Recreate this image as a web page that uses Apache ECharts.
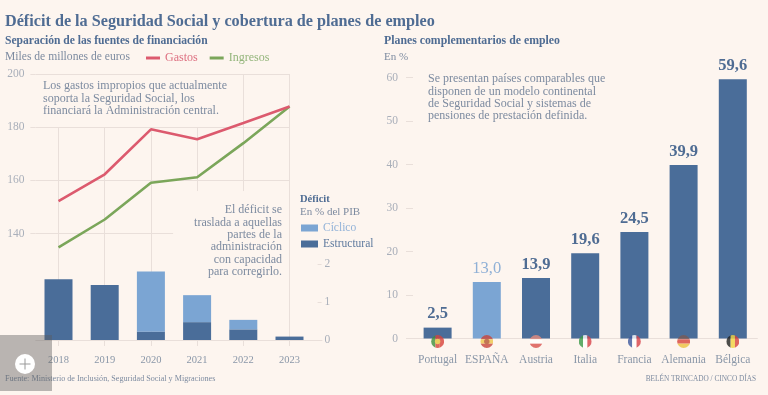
<!DOCTYPE html>
<html>
<head>
<meta charset="utf-8">
<style>
  html, body { margin: 0; padding: 0; background: #fdf5ef; }
  #chart { width: 768px; height: 395px; }
</style>
<script src="https://cdn.jsdelivr.net/npm/echarts@6/dist/echarts.min.js"></script>
</head>
<body>
<div id="chart"></div>
<script>
// lineas de gastos e ingresos
var years = [2018, 2019, 2020, 2021, 2022, 2023];
var gastos = [152.2, 162.3, 179.2, 175.5, 181.6, 187.8];
var ingresos = [134.8, 145.3, 159.1, 161.2, 174, 187.8];
var lineTicks = [140, 160, 180, 200];

// barras de deficit
var yearLabels = ["2018", "2019", "2020", "2021", "2022", "2023"];
var estructural = [1.6, 1.45, 0.22, 0.47, 0.28, 0.09];
var ciclico = [0, 0, 1.58, 0.71, 0.25, 0];
var deficitTicks = [0, 1, 2];

// planes de empleo
var paises = ["Portugal", "ESPAÑA", "Austria", "Italia", "Francia", "Alemania", "Bélgica"];
var planes = [2.5, 13.0, 13.9, 19.6, 24.5, 39.9, 59.6];

var FONT = '"Liberation Serif", serif';
var DARK = "#4a6d99";
var LIGHT = "#7ba5d3";
var TITLE = "#4f6c93";
var TEXT = "#7d8ba0";
var TICK = "#a9afba";
var RULE = "#e9dfda";

var flags = {
  "Portugal": { dir: "v", colors: ["#3f8f3a", "#d8423a", "#d8423a"], dot: "#e6c23c" },
  "ESPAÑA": { dir: "h", colors: ["#c9453a", "#eec64a", "#c9453a"], dot: "#b5562e" },
  "Austria": { dir: "h", colors: ["#e58b7e", "#ffffff", "#d9534f"] },
  "Italia": { dir: "v", colors: ["#3c9a4a", "#ffffff", "#d8434a"] },
  "Francia": { dir: "v", colors: ["#3f5a9e", "#ffffff", "#d8434a"] },
  "Alemania": { dir: "h", colors: ["#7a5a55", "#d8433a", "#edc13f"] },
  "Bélgica": { dir: "v", colors: ["#222222", "#f2d33f", "#d8433a"] }
};

function flagSymbol(name) {
  var f = flags[name];
  var rects = f.colors.map(function (c, i) {
    return f.dir === "v"
      ? "<rect x='" + i * 8 + "' y='0' width='8' height='24' fill='" + c + "'/>"
      : "<rect x='0' y='" + i * 8 + "' width='24' height='8' fill='" + c + "'/>";
  }).join("");
  var dot = f.dot ? "<circle cx='12' cy='12' r='5' fill='" + f.dot + "'/>" : "";
  var svg = "<svg xmlns='http://www.w3.org/2000/svg' width='24' height='24' viewBox='0 0 24 24'>" +
    "<clipPath id='c'><circle cx='12' cy='12' r='12'/></clipPath><g clip-path='url(#c)'>" + rects + dot + "</g></svg>";
  return "image://data:image/svg+xml;charset=utf-8," + encodeURIComponent(svg);
}

function label(x, y, text, size, color, opts) {
  opts = opts || {};
  return {
    type: "text",
    x: x,
    y: y,
    z: 10,
    style: {
      text: text,
      font: (opts.bold ? "bold " : "") + size + "px " + FONT,
      fill: color,
      align: opts.align || "left",
      verticalAlign: "middle",
      lineHeight: opts.lineHeight
    }
  };
}

function vLine(year, from, to) {
  return [{ coord: [year, from] }, { coord: [year, to] }];
}
function hLine(value, from, to) {
  return [{ coord: [from, value] }, { coord: [to, value] }];
}

var graphics = [
  label(5, 22, "Déficit de la Seguridad Social y cobertura de planes de empleo", 16.2, TITLE, { bold: true }),
  label(5, 41, "Separación de las fuentes de financiación", 11.6, TITLE, { bold: true }),
  label(5, 57, "Miles de millones de euros", 11.6, TEXT),
  label(43, 98.5, "Los gastos impropios que actualmente\nsoporta la Seguridad Social, los\nfinanciará la Administración central.", 12, TEXT, { lineHeight: 12.3 }),
  label(282, 241, "El déficit se\ntraslada a aquellas\npartes de la\nadministración\ncon capacidad\npara corregirlo.", 12, TEXT, { align: "right", lineHeight: 12.3 }),
  label(300, 199, "Déficit", 10.5, TITLE, { bold: true }),
  label(300, 212, "En % del PIB", 11, TEXT),
  label(384, 41, "Planes complementarios de empleo", 11.8, TITLE, { bold: true }),
  label(384, 57, "En %", 11, TEXT),
  label(428, 97.5, "Se presentan países comparables que\ndisponen de un modelo continental\nde Seguridad Social y sistemas de\npensiones de prestación definida.", 12, TEXT, { lineHeight: 12.3 }),
  label(5, 379, "Fuente: Ministerio de Inclusión, Seguridad Social y Migraciones", 8.15, TEXT),
  label(756, 379, "BELÉN TRINCADO / CINCO DÍAS", 7.3, TEXT, { align: "right" }),
  // boton del visor encima del grafico
  { type: "rect", z: 20, shape: { x: 0, y: 335, width: 52, height: 56 }, style: { fill: "rgba(90,90,90,0.42)" } },
  { type: "circle", z: 21, shape: { cx: 25, cy: 364, r: 10 }, style: { fill: "#ffffff" } },
  { type: "rect", z: 22, shape: { x: 19.5, y: 363.5, width: 11, height: 1 }, style: { fill: "#9a9a9a" } },
  { type: "rect", z: 22, shape: { x: 24.5, y: 358.5, width: 1, height: 11 }, style: { fill: "#9a9a9a" } }
];

var myChart = echarts.init(document.getElementById("chart"));
var option = {
  backgroundColor: "#fdf5ef",
  animation: false,
  textStyle: { fontFamily: FONT },
  graphic: graphics,
  legend: [
    {
      left: 146,
      top: 52,
      orient: "horizontal",
      icon: "rect",
      itemWidth: 14,
      itemHeight: 3,
      itemGap: 12,
      itemStyle: { borderWidth: 0 },
      data: [
        { name: "Gastos", textStyle: { color: "#dd6f80" } },
        { name: "Ingresos", textStyle: { color: "#93b57b" } }
      ],
      textStyle: { fontSize: 12, fontFamily: FONT },
      padding: 0
    },
    {
      left: 301,
      top: 222,
      orient: "vertical",
      icon: "rect",
      itemWidth: 17,
      itemHeight: 7,
      itemGap: 4,
      data: [
        { name: "Cíclico", textStyle: { color: "#93b3d8" } },
        { name: "Estructural", textStyle: { color: "#5f7a9e" } }
      ],
      textStyle: { fontSize: 11.5, fontFamily: FONT },
      padding: 0
    }
  ],
  grid: [
    { left: 35.4, top: 74, width: 287, height: 266 },
    { left: 35.4, top: 74, width: 277.2, height: 266 },
    { left: 413, top: 77.5, width: 344.4, height: 261 }
  ],
  xAxis: [
    { gridIndex: 0, type: "value", min: 2017.5, max: 2023.71, show: false },
    {
      gridIndex: 1,
      type: "category",
      data: yearLabels,
      axisLine: { show: false },
      axisTick: { show: true, alignWithLabel: true, length: 6, lineStyle: { color: RULE } },
      axisLabel: { color: "#8a97a8", fontSize: 10.5, margin: 15, fontFamily: FONT }
    },
    {
      gridIndex: 2,
      type: "category",
      data: paises,
      axisLine: { show: true, lineStyle: { color: RULE } },
      axisTick: { show: false },
      axisLabel: { color: "#8a97a8", fontSize: 11.5, margin: 15, interval: 0, fontFamily: FONT }
    }
  ],
  yAxis: [
    {
      gridIndex: 0,
      type: "value",
      min: 100,
      max: 200,
      interval: 20,
      axisLine: { show: false },
      axisTick: { show: true, length: 5, customValues: lineTicks, lineStyle: { color: RULE } },
      axisLabel: { color: TICK, fontSize: 11.5, margin: 11, customValues: lineTicks, fontFamily: FONT },
      splitLine: { show: false }
    },
    {
      gridIndex: 1,
      type: "value",
      position: "right",
      min: 0,
      max: 7,
      interval: 1,
      offset: 5,
      axisLine: { show: false },
      axisTick: { show: true, length: 4, customValues: deficitTicks, lineStyle: { color: RULE } },
      axisLabel: { color: TICK, fontSize: 11.5, margin: 7, customValues: deficitTicks, fontFamily: FONT },
      splitLine: { show: false }
    },
    {
      gridIndex: 2,
      type: "value",
      min: 0,
      max: 60,
      interval: 10,
      axisLine: { show: false },
      axisTick: { show: true, length: 7, lineStyle: { color: RULE } },
      axisLabel: { color: TICK, fontSize: 11.5, margin: 15, fontFamily: FONT },
      splitLine: { show: false }
    }
  ],
  series: [
    {
      // reticula, no es un dato
      name: "reticula",
      type: "line",
      xAxisIndex: 0,
      yAxisIndex: 0,
      z: 0,
      data: [],
      markLine: {
        silent: true,
        z: 1,
        symbol: "none",
        animation: false,
        label: { show: false },
        lineStyle: { color: RULE, width: 1, type: "solid" },
        data: [
          hLine(200, 2017.5, 2023),
          hLine(180, 2017.5, 2023),
          hLine(160, 2017.5, 2023),
          hLine(140, 2017.5, 2020.48),
          hLine(100, 2017.5, 2023.71),
          vLine(2018, 180, 100),
          vLine(2019, 180, 100),
          vLine(2020, 180, 100),
          vLine(2021, 180, 156),
          vLine(2022, 200, 156),
          vLine(2023, 200, 100)
        ]
      }
    },
    {
      name: "Estructural",
      type: "bar",
      xAxisIndex: 1,
      yAxisIndex: 1,
      stack: "deficit",
      barWidth: 28,
      z: 2,
      itemStyle: { color: DARK },
      data: estructural
    },
    {
      name: "Cíclico",
      type: "bar",
      xAxisIndex: 1,
      yAxisIndex: 1,
      stack: "deficit",
      barWidth: 28,
      z: 2,
      itemStyle: { color: LIGHT },
      data: ciclico
    },
    {
      name: "Ingresos",
      type: "line",
      xAxisIndex: 0,
      yAxisIndex: 0,
      z: 3,
      symbol: "none",
      itemStyle: { color: "#7ba65a" },
      lineStyle: { color: "#7ba65a", width: 2.6 },
      data: years.map(function (y, i) { return [y, ingresos[i]]; })
    },
    {
      name: "Gastos",
      type: "line",
      xAxisIndex: 0,
      yAxisIndex: 0,
      z: 3,
      symbol: "none",
      itemStyle: { color: "#dc5a6e" },
      lineStyle: { color: "#dc5a6e", width: 2.6 },
      data: years.map(function (y, i) { return [y, gastos[i]]; })
    },
    {
      name: "Planes",
      type: "bar",
      xAxisIndex: 2,
      yAxisIndex: 2,
      barWidth: 28,
      z: 2,
      data: planes.map(function (v, i) {
        var spain = paises[i] === "ESPAÑA";
        return {
          value: v,
          itemStyle: { color: spain ? LIGHT : DARK },
          label: { color: spain ? "#8fb0d6" : "#4f6c93", fontWeight: spain ? "normal" : "bold" }
        };
      }),
      label: {
        show: true,
        position: "top",
        distance: 5,
        fontSize: 16.5,
        fontFamily: FONT,
        formatter: function (p) { return p.value.toFixed(1).replace(".", ","); }
      }
    },
    {
      name: "Banderas",
      type: "scatter",
      xAxisIndex: 2,
      yAxisIndex: 2,
      z: 5,
      symbolSize: 13,
      symbolOffset: [0, 3],
      silent: true,
      data: paises.map(function (p) {
        return { value: [p, 0], symbol: flagSymbol(p) };
      })
    }
  ]
};
myChart.setOption(option);
</script>
</body>
</html>
